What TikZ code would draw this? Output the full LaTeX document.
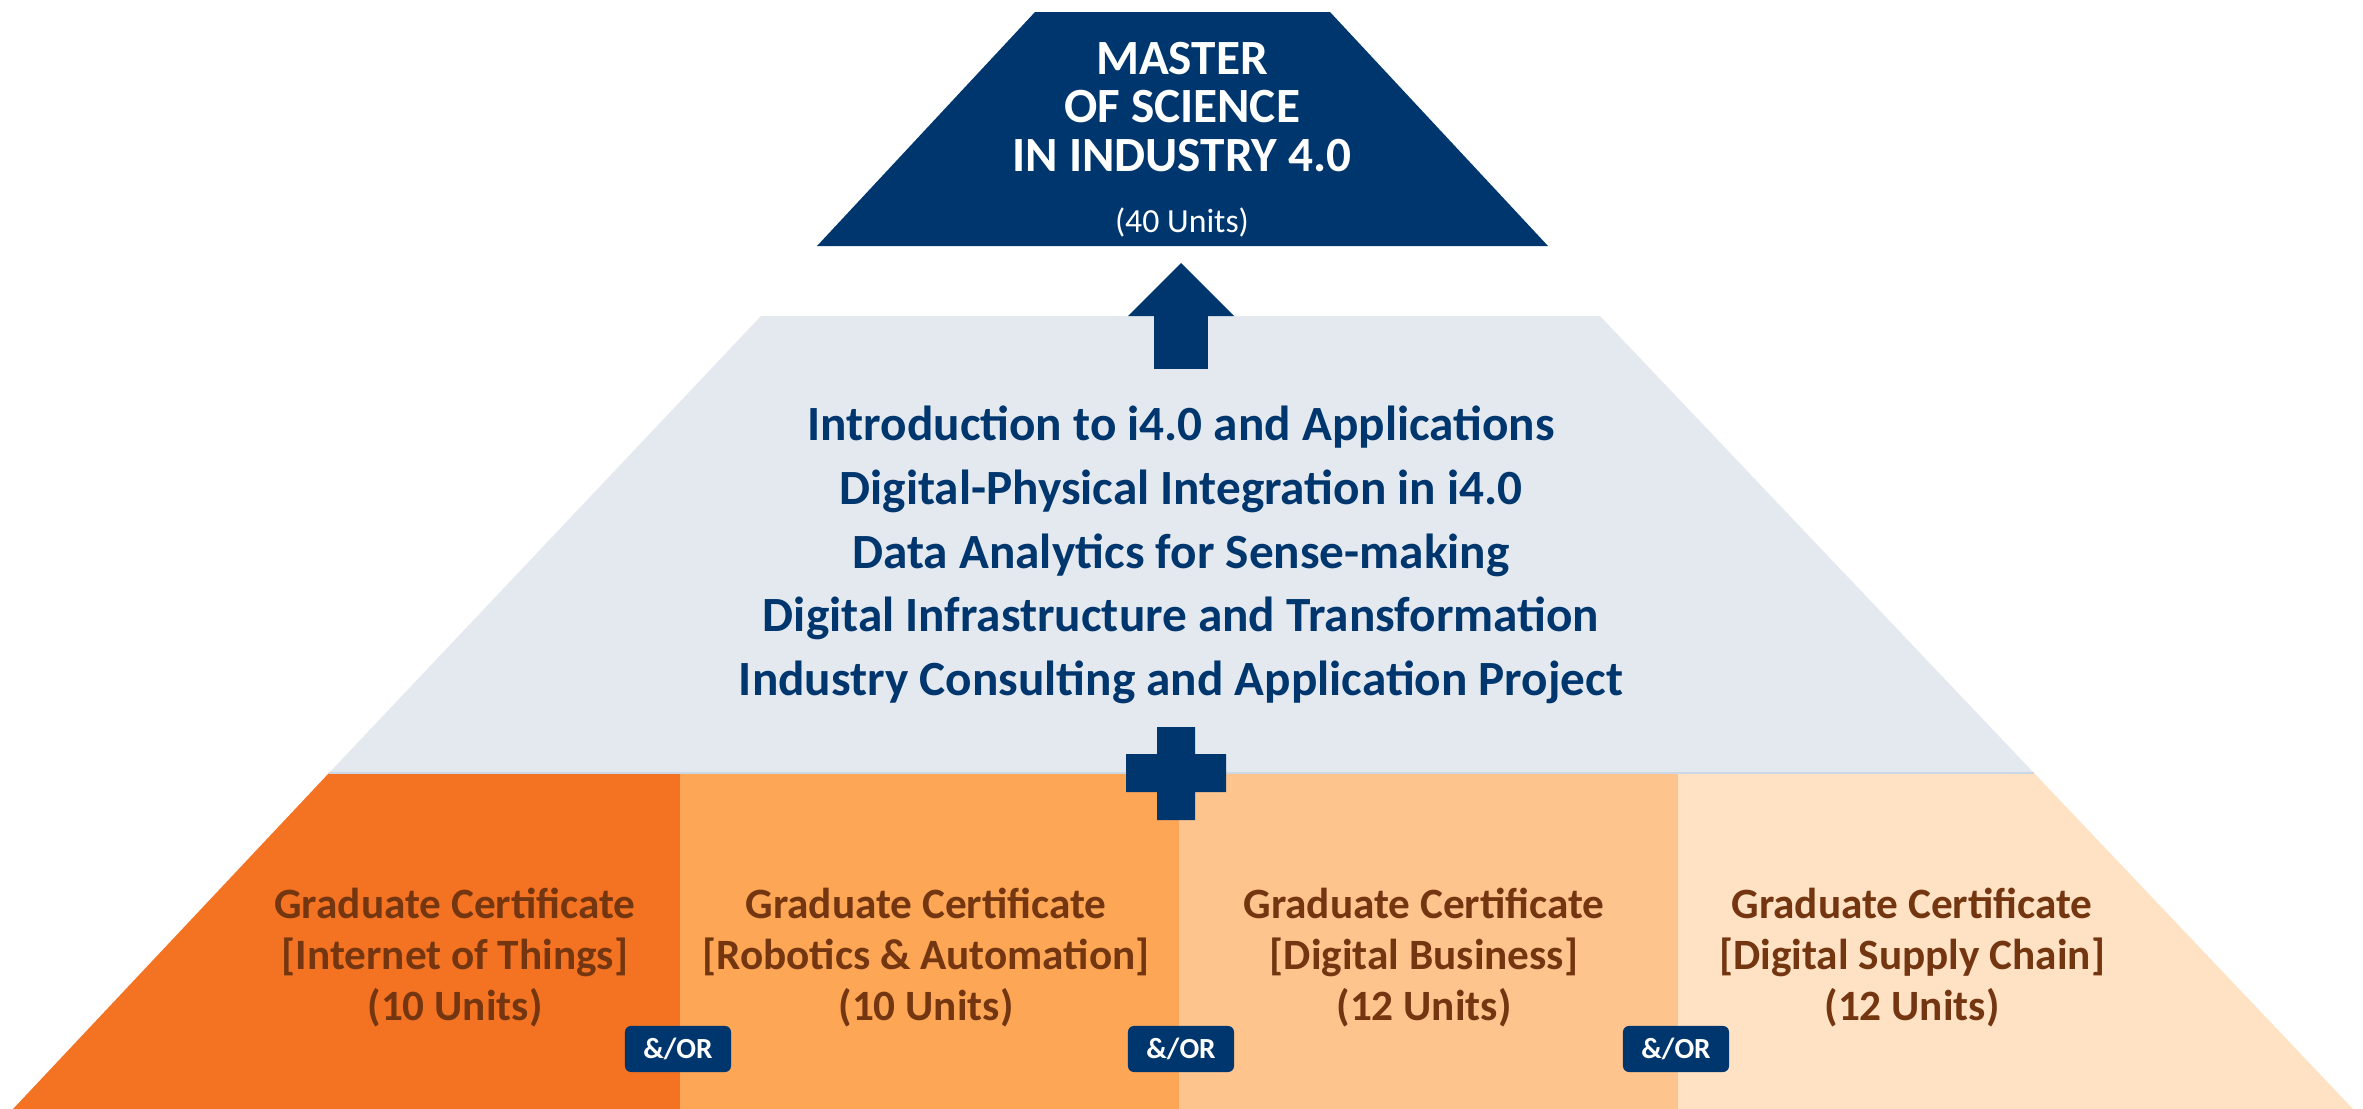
\documentclass[tikz,border=0pt]{standalone}
\usepackage{fontspec}
\setmainfont{Carlito}
\usepackage{xcolor}
\usepackage{tikz}
\usetikzlibrary{arrows.meta}

\definecolor{navy}{RGB}{0,54,110}
\definecolor{coregrey}{RGB}{228,233,240}
\definecolor{coreline}{RGB}{205,216,230}
\definecolor{certbrown}{RGB}{115,54,16}
\definecolor{orangeA}{RGB}{244,115,34}
\definecolor{orangeB}{RGB}{252,166,86}
\definecolor{orangeC}{RGB}{254,196,142}
\definecolor{orangeD}{RGB}{255,226,196}

\tikzset{
  title/.style={align=center, text=white, font=\fontsize{14}{13.7}\selectfont\bfseries},
  core/.style={align=center, text=navy, font=\fontsize{14}{18.1}\selectfont\bfseries},
  cert/.style={align=center, text=certbrown, font=\fontsize{12.3}{14.5}\selectfont\bfseries},
  andor/.style={fill=navy, rounded corners=0.06cm, minimum width=1.06cm, minimum height=0.46cm,
    inner sep=0pt, text=white, font=\fontsize{8.3}{9}\selectfont\bfseries}
}

\begin{document}
\begin{tikzpicture}[x=0.01cm,y=-0.01cm]
\useasboundingbox (0,0) rectangle (2363,1109);

% pyramide
\fill[orangeA] (329,773) -- (680,773) -- (680,1109) -- (13,1109) -- cycle;
\fill[orangeB] (680,773) rectangle (1179,1109);
\fill[orangeC] (1179,773) rectangle (1678,1109);
\fill[orangeD] (1678,773) -- (2034,773) -- (2353,1109) -- (1678,1109) -- cycle;
\fill[coregrey] (761,316) -- (1600,316) -- (2034,773) -- (329,773) -- cycle;
\draw[coreline, line width=0.02cm] (329,773) -- (2034,773);
\fill[navy] (1035,12) -- (1330,12) -- (1548,246) -- (817,246) -- cycle;
\fill[navy] (1126,754) rectangle (1226,792) (1157,727) rectangle (1195,820);

\node[title]  (MS) at (1182,107) {MASTER\\OF SCIENCE\\IN INDUSTRY 4.0};
\node[text=white, font=\fontsize{9.6}{10}\selectfont] (MU) at (1182,222) {(40 Units)};

\node[core] (CORE) at (1181,555) {Introduction to i4.0 and Applications\\
  Digital-Physical Integration in i4.0\\Data Analytics for Sense-making\\
  Digital Infrastructure and Transformation\\Industry Consulting and Application Project};

\node[cert] (IOT) at (455,958)  {Graduate Certificate\\{[}Internet of Things{]}\\(10 Units)};
\node[cert] (RA)  at (926,958)  {Graduate Certificate\\{[}Robotics \& Automation{]}\\(10 Units)};
\node[cert] (DB)  at (1424,958) {Graduate Certificate\\{[}Digital Business{]}\\(12 Units)};
\node[cert] (DSC) at (1912,958) {Graduate Certificate\\{[}Digital Supply Chain{]}\\(12 Units)};

\node[andor] (O1) at (678,1049)  {\&/OR};
\node[andor] (O2) at (1181,1049) {\&/OR};
\node[andor] (O3) at (1676,1049) {\&/OR};

\coordinate (A0) at (1181,369);
\coordinate (A1) at (1181,263);
\draw[navy, line width=0.53cm, -{Triangle[width=1.06cm,length=0.53cm,line width=0pt]}]
  (A0) -- (A1);

\end{tikzpicture}
\end{document}
